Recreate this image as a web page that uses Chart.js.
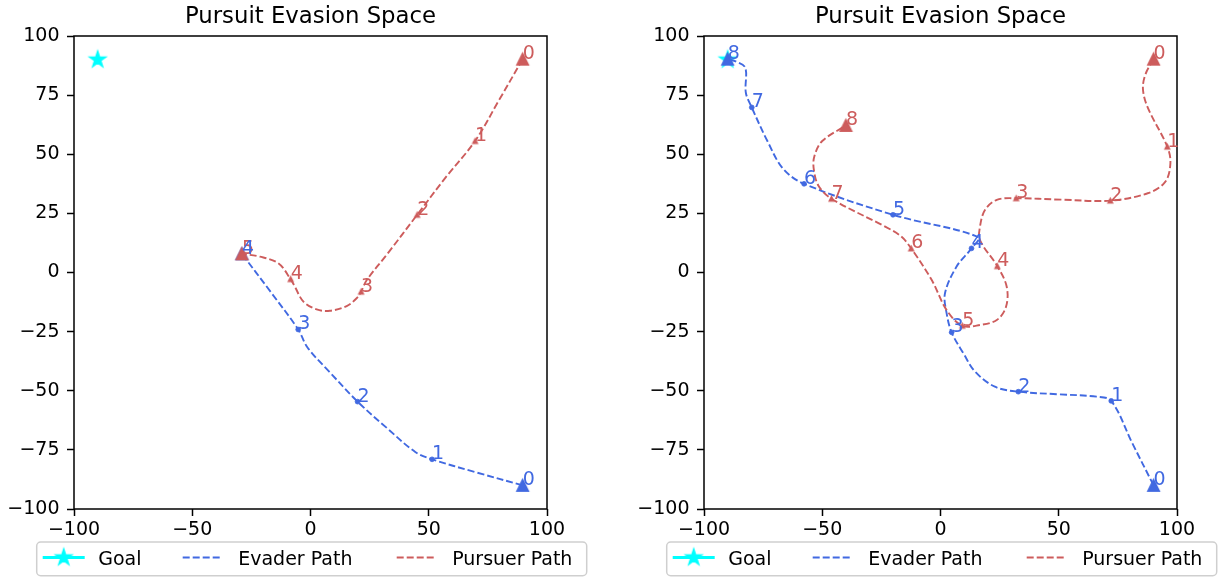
<!DOCTYPE html>
<html><head><meta charset="utf-8">
<script src="https://cdn.jsdelivr.net/npm/chart.js@4/dist/chart.umd.min.js"></script>
<style>
html,body{margin:0;padding:0;background:#fff;width:1225px;height:582px;overflow:hidden}
canvas{position:absolute;top:0}
#c1{left:0}
#c2{left:612px}
</style></head><body>
<canvas id="c1" width="612" height="582"></canvas>
<canvas id="c2" width="613" height="582"></canvas>
<script>
// ---------------- data ----------------
const chartTitle = 'Pursuit Evasion Space';
const legendLabels = ['Goal', 'Evader Path', 'Pursuer Path'];
const xTickValues = [-100, -50, 0, 50, 100];
const yTickValues = [-100, -75, -50, -25, 0, 25, 50, 75, 100];
const goalPoint = [-90, 90];

// left panel: step positions (numbered markers)
const leftEvaderSteps = [[89.7, -90], [51.4, -79], [19.9, -54.6], [-5.2, -24.1], [-29, 7.9]];
const leftPursuerSteps = [[89.7, 90.2], [69.6, 55.6], [45.1, 24.4], [21.4, -8.1], [-8.4, -2.8], [-29, 7.9]];
// left panel: traced path vertices
const leftEvaderPath = [[89.7, -90], [70, -84.5], [51.4, -79], [44.3, -75.9], [32, -65.5], [19.9, -54.6],
  [8, -42], [-1.2, -31.8], [-5.2, -24.1], [-17, -8], [-29, 7.9]];
const leftPursuerPath = [[89.7, 90.2], [79.5, 72.5], [69.6, 55.6], [57, 40], [45.1, 24.4], [33, 8.5],
  [23.8, -3.2], [21.4, -8.1], [19.5, -10.9], [15.3, -14.2], [8.2, -16.2], [2.6, -15.6], [-3, -12.3],
  [-6.6, -6], [-8.4, -2.8], [-13.6, 3.9], [-21.4, 6.7], [-29, 7.9]];

// right panel: step positions
const rightEvaderSteps = [[90.1, -90], [72.2, -54.3], [32.9, -50.4], [4.7, -25.3], [13.1, 10.2],
  [-20.1, 24.4], [-57.7, 37.5], [-79.8, 69.8], [-90, 90.2]];
const rightPursuerSteps = [[90.1, 90.2], [95.9, 53.2], [71.8, 30.4], [32, 31.4], [24, 2.7],
  [9.2, -22.5], [-12.4, 10.2], [-46.1, 31.2], [-40, 62.2]];
// right panel: traced path vertices
const rightEvaderPath = [[90.1, -90], [81, -72], [72.2, -54.3], [66, -52.5], [50, -51.5], [32.9, -50.4],
  [23, -48.3], [14.7, -42], [9.7, -34.2], [4.7, -25.3], [2.6, -17.3], [1.9, -8.8], [6.8, 2.5],
  [13.1, 10.2], [15.9, 15], [-20.1, 24.4], [-57.7, 37.5], [-66.5, 43.8], [-73.2, 55.6], [-79.8, 69.8],
  [-82.3, 76], [-82.5, 86.5], [-86, 89], [-90, 90.2]];
const rightPursuerPath = [[90.1, 90.2], [86.7, 83.9], [85.6, 77.6], [87.6, 69.8], [95.9, 53.2],
  [97.2, 46.1], [95, 38.3], [87.6, 33.5], [71.8, 30.4], [51.1, 30.8], [32, 31.4], [23.8, 30.7],
  [18.8, 26.4], [16.7, 19.4], [16.7, 13.7], [24, 2.7], [28, -6], [27.7, -14.5], [23.8, -20.1],
  [16.7, -22.2], [9.2, -22.5], [2.6, -15.9], [-3.7, -3.2], [-12.4, 10.2], [-16.8, 15.4], [-23.4, 19.4],
  [-46.1, 31.2], [-51.6, 36.7], [-53.6, 43.8], [-53.3, 49.3], [-50, 55.6], [-40, 62.2]];

// ---------------- styles ----------------
const EVADER = '#4169E1', PURSUER = '#CD5C5C', GOAL = '#00FFFF';
const FONT = "'DejaVu Sans', sans-serif";
Chart.defaults.font.family = FONT;
Chart.defaults.font.size = 19;
Chart.defaults.color = '#000';

function makeStar(R, color) {
  const s = Math.ceil(2 * R + 6), c = document.createElement('canvas');
  c.width = c.height = s;
  const g = c.getContext('2d'), cx = s / 2, cy = s / 2;
  g.beginPath();
  for (let i = 0; i < 10; i++) {
    const r = i % 2 ? R * 0.382 : R, a = -Math.PI / 2 + i * Math.PI / 5;
    const px = cx + r * Math.cos(a), py = cy + r * Math.sin(a);
    i ? g.lineTo(px, py) : g.moveTo(px, py);
  }
  g.closePath();
  g.fillStyle = color; g.fill();
  g.strokeStyle = color; g.lineWidth = 1.2; g.lineJoin = 'miter'; g.stroke();
  return c;
}
function makeTri(h, color, lw) {
  const s = Math.ceil(h + lw * 4 + 4), c = document.createElement('canvas');
  c.width = c.height = s;
  const g = c.getContext('2d'), cx = s / 2, cy = s / 2;
  g.beginPath();
  g.moveTo(cx, cy - h / 2); g.lineTo(cx - h / 2, cy + h / 2); g.lineTo(cx + h / 2, cy + h / 2);
  g.closePath();
  g.fillStyle = color; g.fill();
  g.strokeStyle = color; g.lineWidth = lw; g.lineJoin = 'miter'; g.stroke();
  return c;
}
const starImg = makeStar(8.8, GOAL);
const bigTriE = makeTri(11, EVADER, 1.8), bigTriP = makeTri(11, PURSUER, 1.8);
const smallTriP = makeTri(4.6, PURSUER, 1.4);

const toXY = arr => arr.map(p => ({x: p[0], y: p[1]}));
const fmt = v => (v < 0 ? '\u2212' + Math.abs(v) : String(v));

const framePlugin = {
  id: 'frame',
  afterDatasetsDraw(chart) {
    const a = chart.chartArea, g = chart.ctx;
    g.save(); g.strokeStyle = '#000'; g.lineWidth = 1.5;
    g.strokeRect(a.left, a.top, a.right - a.left, a.bottom - a.top);
    g.restore();
  }
};
const stepLabelPlugin = {
  id: 'stepLabels',
  afterDatasetsDraw(chart) {
    const g = chart.ctx;
    g.save();
    g.font = '19px ' + FONT; g.textAlign = 'left'; g.textBaseline = 'alphabetic';
    chart.data.datasets.forEach((ds, di) => {
      if (!ds.stepLabels) return;
      g.fillStyle = ds.backgroundColor;
      chart.getDatasetMeta(di).data.forEach((el, i) => g.fillText(String(i), el.x, el.y));
    });
    g.restore();
  }
};
const boxLegendPlugin = {
  id: 'boxLegend',
  afterDraw(chart, args, opts) {
    const g = chart.ctx, L = opts.left, T = 542, W = 550, H = 33.7, cy = 557.5;
    g.save();
    g.beginPath(); g.roundRect(L, T, W, H, 4);
    g.fillStyle = 'rgba(255,255,255,0.8)'; g.fill();
    g.strokeStyle = '#cfcfcf'; g.lineWidth = 1.5; g.stroke();
    // goal
    g.strokeStyle = GOAL; g.lineWidth = 2.85; g.setLineDash([]);
    g.beginPath(); g.moveTo(L + 6, cy); g.lineTo(L + 48, cy); g.stroke();
    g.drawImage(starImg, L + 27 - starImg.width / 2, cy - starImg.height / 2);
    // evader
    g.lineWidth = 1.9; g.setLineDash([7, 3]); g.strokeStyle = EVADER;
    g.beginPath(); g.moveTo(L + 146, cy); g.lineTo(L + 186, cy); g.stroke();
    g.strokeStyle = PURSUER;
    g.beginPath(); g.moveTo(L + 360, cy); g.lineTo(L + 400, cy); g.stroke();
    g.setLineDash([]);
    g.fillStyle = '#000'; g.font = '19px ' + FONT; g.textBaseline = 'alphabetic'; g.textAlign = 'left';
    g.fillText(legendLabels[0], L + 61.5, 565);
    g.fillText(legendLabels[1], L + 201.5, 565);
    g.fillText(legendLabels[2], L + 415.5, 565);
    g.restore();
  }
};

function buildChart(id, evSteps, evPath, puSteps, puPath, yAxisW, padRight, legendLeft) {
  const lastE = evSteps.length - 1, lastP = puSteps.length - 1;
  return new Chart(document.getElementById(id), {
    type: 'scatter',
    data: {
      datasets: [
        { label: 'pursuer steps', data: toXY(puSteps), order: 1, stepLabels: true,
          backgroundColor: PURSUER, borderColor: PURSUER,
          pointStyle: c => (c.dataIndex === 0 || c.dataIndex === lastP) ? bigTriP : smallTriP },
        { label: legendLabels[2], data: toXY(puPath), order: 2, showLine: true, tension: 0.35,
          borderColor: PURSUER, borderWidth: 1.9, borderDash: [7, 3], pointRadius: 0, backgroundColor: PURSUER },
        { label: 'evader steps', data: toXY(evSteps), order: 3, stepLabels: true,
          backgroundColor: EVADER, borderColor: EVADER, borderWidth: 0.8,
          pointStyle: c => (c.dataIndex === 0 || c.dataIndex === lastE) ? bigTriE : 'circle',
          pointRadius: 2.4 },
        { label: legendLabels[1], data: toXY(evPath), order: 4, showLine: true, tension: 0.35,
          borderColor: EVADER, borderWidth: 1.9, borderDash: [7, 3], pointRadius: 0, backgroundColor: EVADER },
        { label: legendLabels[0], data: [{x: goalPoint[0], y: goalPoint[1]}], order: 5,
          pointStyle: starImg, backgroundColor: GOAL, borderColor: GOAL }
      ]
    },
    options: {
      responsive: false, animation: false, events: [],
      layout: { padding: { left: 0, right: padRight, top: 0, bottom: 40 } },
      plugins: {
        legend: { display: false }, tooltip: { enabled: false },
        title: { display: true, text: chartTitle, fullSize: false, color: '#000',
          font: { size: 22.8, weight: 'normal', lineHeight: 1.2 }, padding: { top: 3, bottom: 5.64 } },
        boxLegend: { left: legendLeft }
      },
      scales: {
        x: { type: 'linear', min: -100, max: 100,
          afterBuildTicks: s => { s.ticks = xTickValues.map(v => ({value: v})); },
          afterFit: s => { s.height = 33; },
          ticks: { callback: fmt, padding: 3, maxRotation: 0, autoSkip: false, font: { size: 19, lineHeight: 1.2 } },
          grid: { drawOnChartArea: false, drawTicks: true, tickLength: 7, tickWidth: 1.5, tickColor: '#000' },
          border: { display: false } },
        y: { type: 'linear', min: -100, max: 100,
          afterBuildTicks: s => { s.ticks = yTickValues.map(v => ({value: v})); },
          afterFit: s => { s.width = yAxisW; },
          ticks: { callback: fmt, padding: 7.5, autoSkip: false, font: { size: 19, lineHeight: 1.2 } },
          grid: { drawOnChartArea: false, drawTicks: true, tickLength: 7, tickWidth: 1.5, tickColor: '#000' },
          border: { display: false } }
      }
    },
    plugins: [framePlugin, stepLabelPlugin, boxLegendPlugin]
  });
}

buildChart('c1', leftEvaderSteps, leftEvaderPath, leftPursuerSteps, leftPursuerPath, 74, 65, 36.7);
buildChart('c2', rightEvaderSteps, rightEvaderPath, rightPursuerSteps, rightPursuerPath, 92, 48, 54.7);
</script>
</body></html>
